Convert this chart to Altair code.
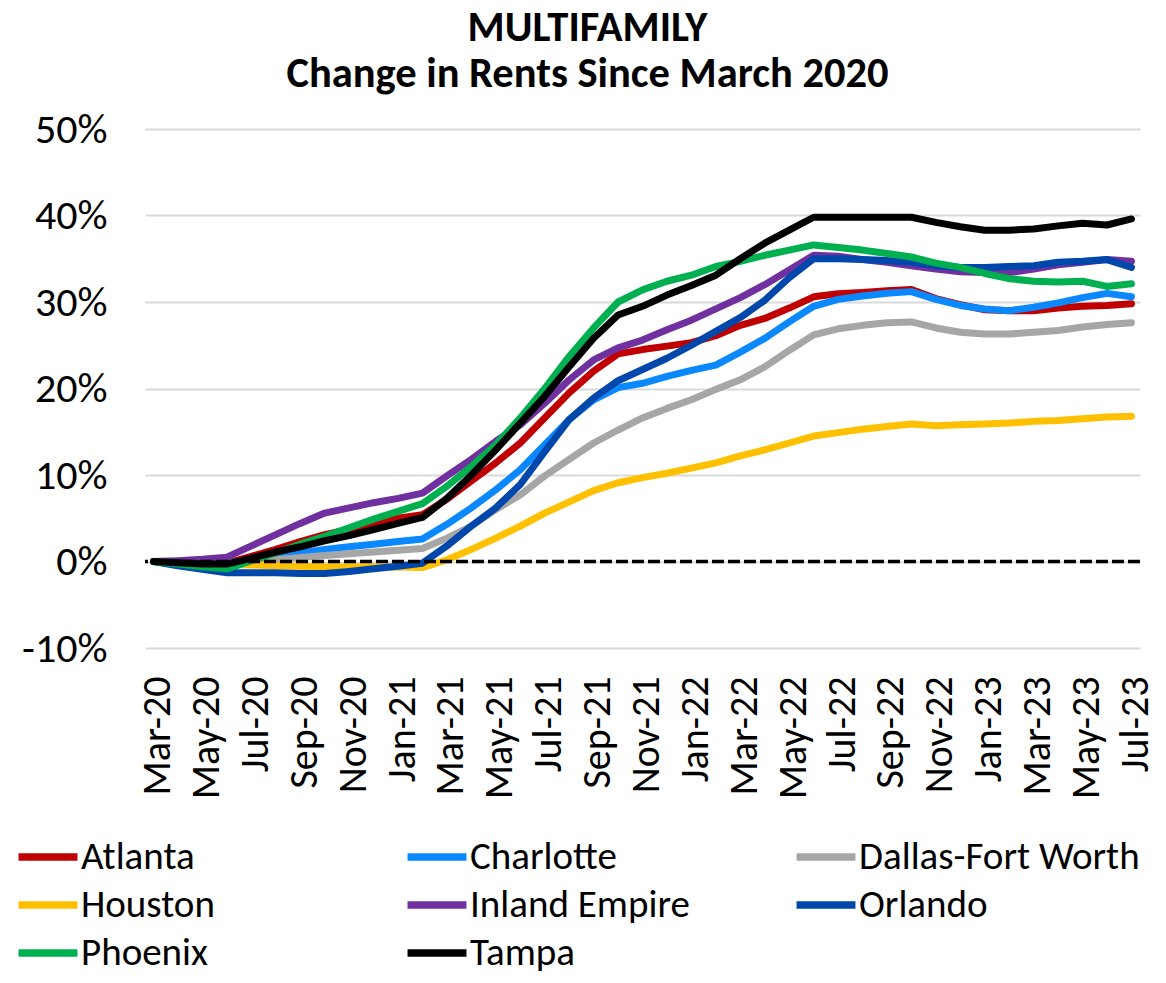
import altair as alt
import pandas as pd

months = ["Mar-20", "Apr-20", "May-20", "Jun-20", "Jul-20", "Aug-20", "Sep-20", "Oct-20", "Nov-20", "Dec-20",
          "Jan-21", "Feb-21", "Mar-21", "Apr-21", "May-21", "Jun-21", "Jul-21", "Aug-21", "Sep-21", "Oct-21",
          "Nov-21", "Dec-21", "Jan-22", "Feb-22", "Mar-22", "Apr-22", "May-22", "Jun-22", "Jul-22", "Aug-22",
          "Sep-22", "Oct-22", "Nov-22", "Dec-22", "Jan-23", "Feb-23", "Mar-23", "Apr-23", "May-23", "Jun-23",
          "Jul-23"]

atlanta = [0, -0.1, -0.2, -0.2, 0.6, 1.4, 2.3, 3.1, 3.7, 4.3, 5.0, 5.4,
           7.2, 9.3, 11.4, 13.7, 16.6, 19.5, 22.0, 24.0, 24.5, 24.9, 25.3, 26.1,
           27.3, 28.1, 29.3, 30.6, 30.95, 31.1, 31.3, 31.45, 30.4, 29.7, 29.1, 29.0,
           29.0, 29.3, 29.5, 29.6, 29.8]
charlotte = [0, -0.1, -0.2, -0.2, 0.2, 0.6, 1.0, 1.4, 1.7, 2.0, 2.3, 2.6,
             4.3, 6.2, 8.3, 10.6, 13.5, 16.4, 18.7, 20.1, 20.6, 21.4, 22.1, 22.7,
             24.2, 25.8, 27.7, 29.5, 30.3, 30.7, 31.0, 31.2, 30.3, 29.6, 29.2, 29.0,
             29.4, 29.9, 30.5, 31.0, 30.6]
dallas = [0, -0.1, -0.2, -0.25, 0.0, 0.2, 0.45, 0.7, 0.9, 1.1, 1.3, 1.5,
          2.7, 4.1, 6.0, 7.7, 9.9, 11.8, 13.7, 15.2, 16.6, 17.7, 18.7, 19.9,
          21.0, 22.5, 24.4, 26.2, 26.9, 27.3, 27.6, 27.7, 27.0, 26.5, 26.3, 26.3,
          26.5, 26.7, 27.1, 27.4, 27.6]
houston = [0, -0.1, -0.25, -0.35, -0.4, -0.5, -0.55, -0.6, -0.6, -0.6, -0.65, -0.7,
           0.2, 1.4, 2.7, 4.1, 5.6, 6.9, 8.2, 9.1, 9.7, 10.2, 10.8, 11.4,
           12.2, 12.9, 13.7, 14.5, 14.9, 15.3, 15.6, 15.9, 15.7, 15.8, 15.9, 16.0,
           16.2, 16.3, 16.5, 16.7, 16.8]
inland_empire = [0, 0.1, 0.25, 0.5, 1.8, 3.1, 4.4, 5.6, 6.2, 6.8, 7.3, 7.9,
                 9.9, 11.8, 13.9, 15.8, 18.3, 21.0, 23.3, 24.7, 25.6, 26.8, 27.9, 29.2,
                 30.5, 32.0, 33.7, 35.4, 35.3, 34.9, 34.6, 34.2, 33.8, 33.5, 33.4, 33.4,
                 33.8, 34.3, 34.6, 34.9, 34.7]
orlando = [0, -0.5, -0.9, -1.3, -1.3, -1.3, -1.4, -1.4, -1.15, -0.85, -0.55, -0.2,
           1.8, 4.1, 6.2, 8.9, 12.7, 16.4, 18.9, 20.9, 22.2, 23.5, 25.0, 26.6,
           28.2, 30.2, 32.8, 35.0, 35.0, 34.9, 34.8, 34.6, 34.2, 34.0, 34.0, 34.1,
           34.2, 34.6, 34.7, 34.9, 34.0]
phoenix = [0, -0.3, -0.6, -0.85, 0.1, 1.0, 2.0, 2.9, 3.9, 4.9, 5.8, 6.7,
           8.7, 11.0, 13.5, 16.6, 20.0, 23.7, 27.0, 30.0, 31.4, 32.4, 33.1, 34.1,
           34.7, 35.4, 36.0, 36.6, 36.3, 36.0, 35.6, 35.2, 34.5, 34.0, 33.3, 32.7,
           32.4, 32.3, 32.4, 31.8, 32.1]
tampa = [0, -0.15, -0.3, -0.3, 0.4, 1.1, 1.7, 2.4, 3.0, 3.7, 4.4, 5.1,
         7.3, 10.0, 12.9, 16.0, 19.1, 22.5, 25.8, 28.5, 29.5, 30.8, 31.9, 33.1,
         35.0, 36.8, 38.3, 39.8, 39.8, 39.8, 39.8, 39.8, 39.2, 38.7, 38.3, 38.3,
         38.45, 38.8, 39.1, 38.9, 39.6]

cities = ["Atlanta", "Charlotte", "Dallas-Fort Worth", "Houston",
          "Inland Empire", "Orlando", "Phoenix", "Tampa"]
series = [atlanta, charlotte, dallas, houston, inland_empire, orlando, phoenix, tampa]
colors = ["#C00000", "#0A88FF", "#A6A6A6", "#FFC000", "#7030A0", "#0047AB", "#00B050", "#000000"]
y_ticks = [-10, 0, 10, 20, 30, 40, 50]

rows = []
for city, vals in zip(cities, series):
    for m, v in zip(months, vals):
        rows.append({"month": m, "city": city, "value": v})
df = pd.DataFrame(rows)

FONT = "Calibri, Carlito, Lato, sans-serif"

x_enc = alt.X(
    "month:O", sort=months,
    scale=alt.Scale(type="point", padding=0.35),
    axis=alt.Axis(values=months[::2], labelAngle=-90, labelAlign="right", labelBaseline="middle",
                  labelPadding=28, labelOffset=4, ticks=False, domain=False, grid=False,
                  labelFontSize=40, labelFont=FONT, labelColor="black", title=None,
                  labelOverlap=False),
)
y_enc = alt.Y(
    "value:Q",
    scale=alt.Scale(domain=[-10, 50], nice=False, zero=False),
    axis=alt.Axis(values=y_ticks, labelExpr="datum.value + '%'", ticks=False, domain=False,
                  gridColor="#D9D9D9", gridWidth=2, labelFontSize=42, labelFont=FONT,
                  labelColor="black", labelPadding=38, title=None),
)

zero = alt.Chart(pd.DataFrame({"value": [0]})).mark_rule(
    color="black", strokeWidth=3.5, strokeDash=[12, 4]
).encode(y="value:Q")

lines = alt.Chart(df).mark_line(strokeWidth=7, strokeCap="round", strokeJoin="round").encode(
    x=x_enc,
    y=y_enc,
    color=alt.Color(
        "city:N",
        scale=alt.Scale(domain=cities, range=colors),
        legend=alt.Legend(title=None, orient="none", legendX=-125, legendY=700, columns=3,
                          direction="horizontal", gridAlign="all", columnPadding=30, rowPadding=0,
                          symbolType="M-1.22,0H1.22", symbolSize=2333, symbolStrokeWidth=7.5,
                          symbolFillColor="transparent",
                          labelFontSize=39, labelFont=FONT, labelColor="black",
                          labelOffset=5, labelLimit=600),
    ),
)

chart = alt.layer(lines, zero).properties(
    width=995,
    height=519,
    autosize=alt.AutoSizeParams(type="none"),
    padding={"left": 137, "top": 121, "right": 18, "bottom": 327},
    title=alt.TitleParams(["MULTIFAMILY", "Change in Rents Since March 2020"], fontSize=42.5,
                          font=FONT, fontWeight="bold", anchor="middle", dx=-55, offset=13,
                          lineHeight=46, color="black"),
).configure_view(stroke=None)

chart.save("out.html", embed_options={"renderer": "svg", "actions": False})
